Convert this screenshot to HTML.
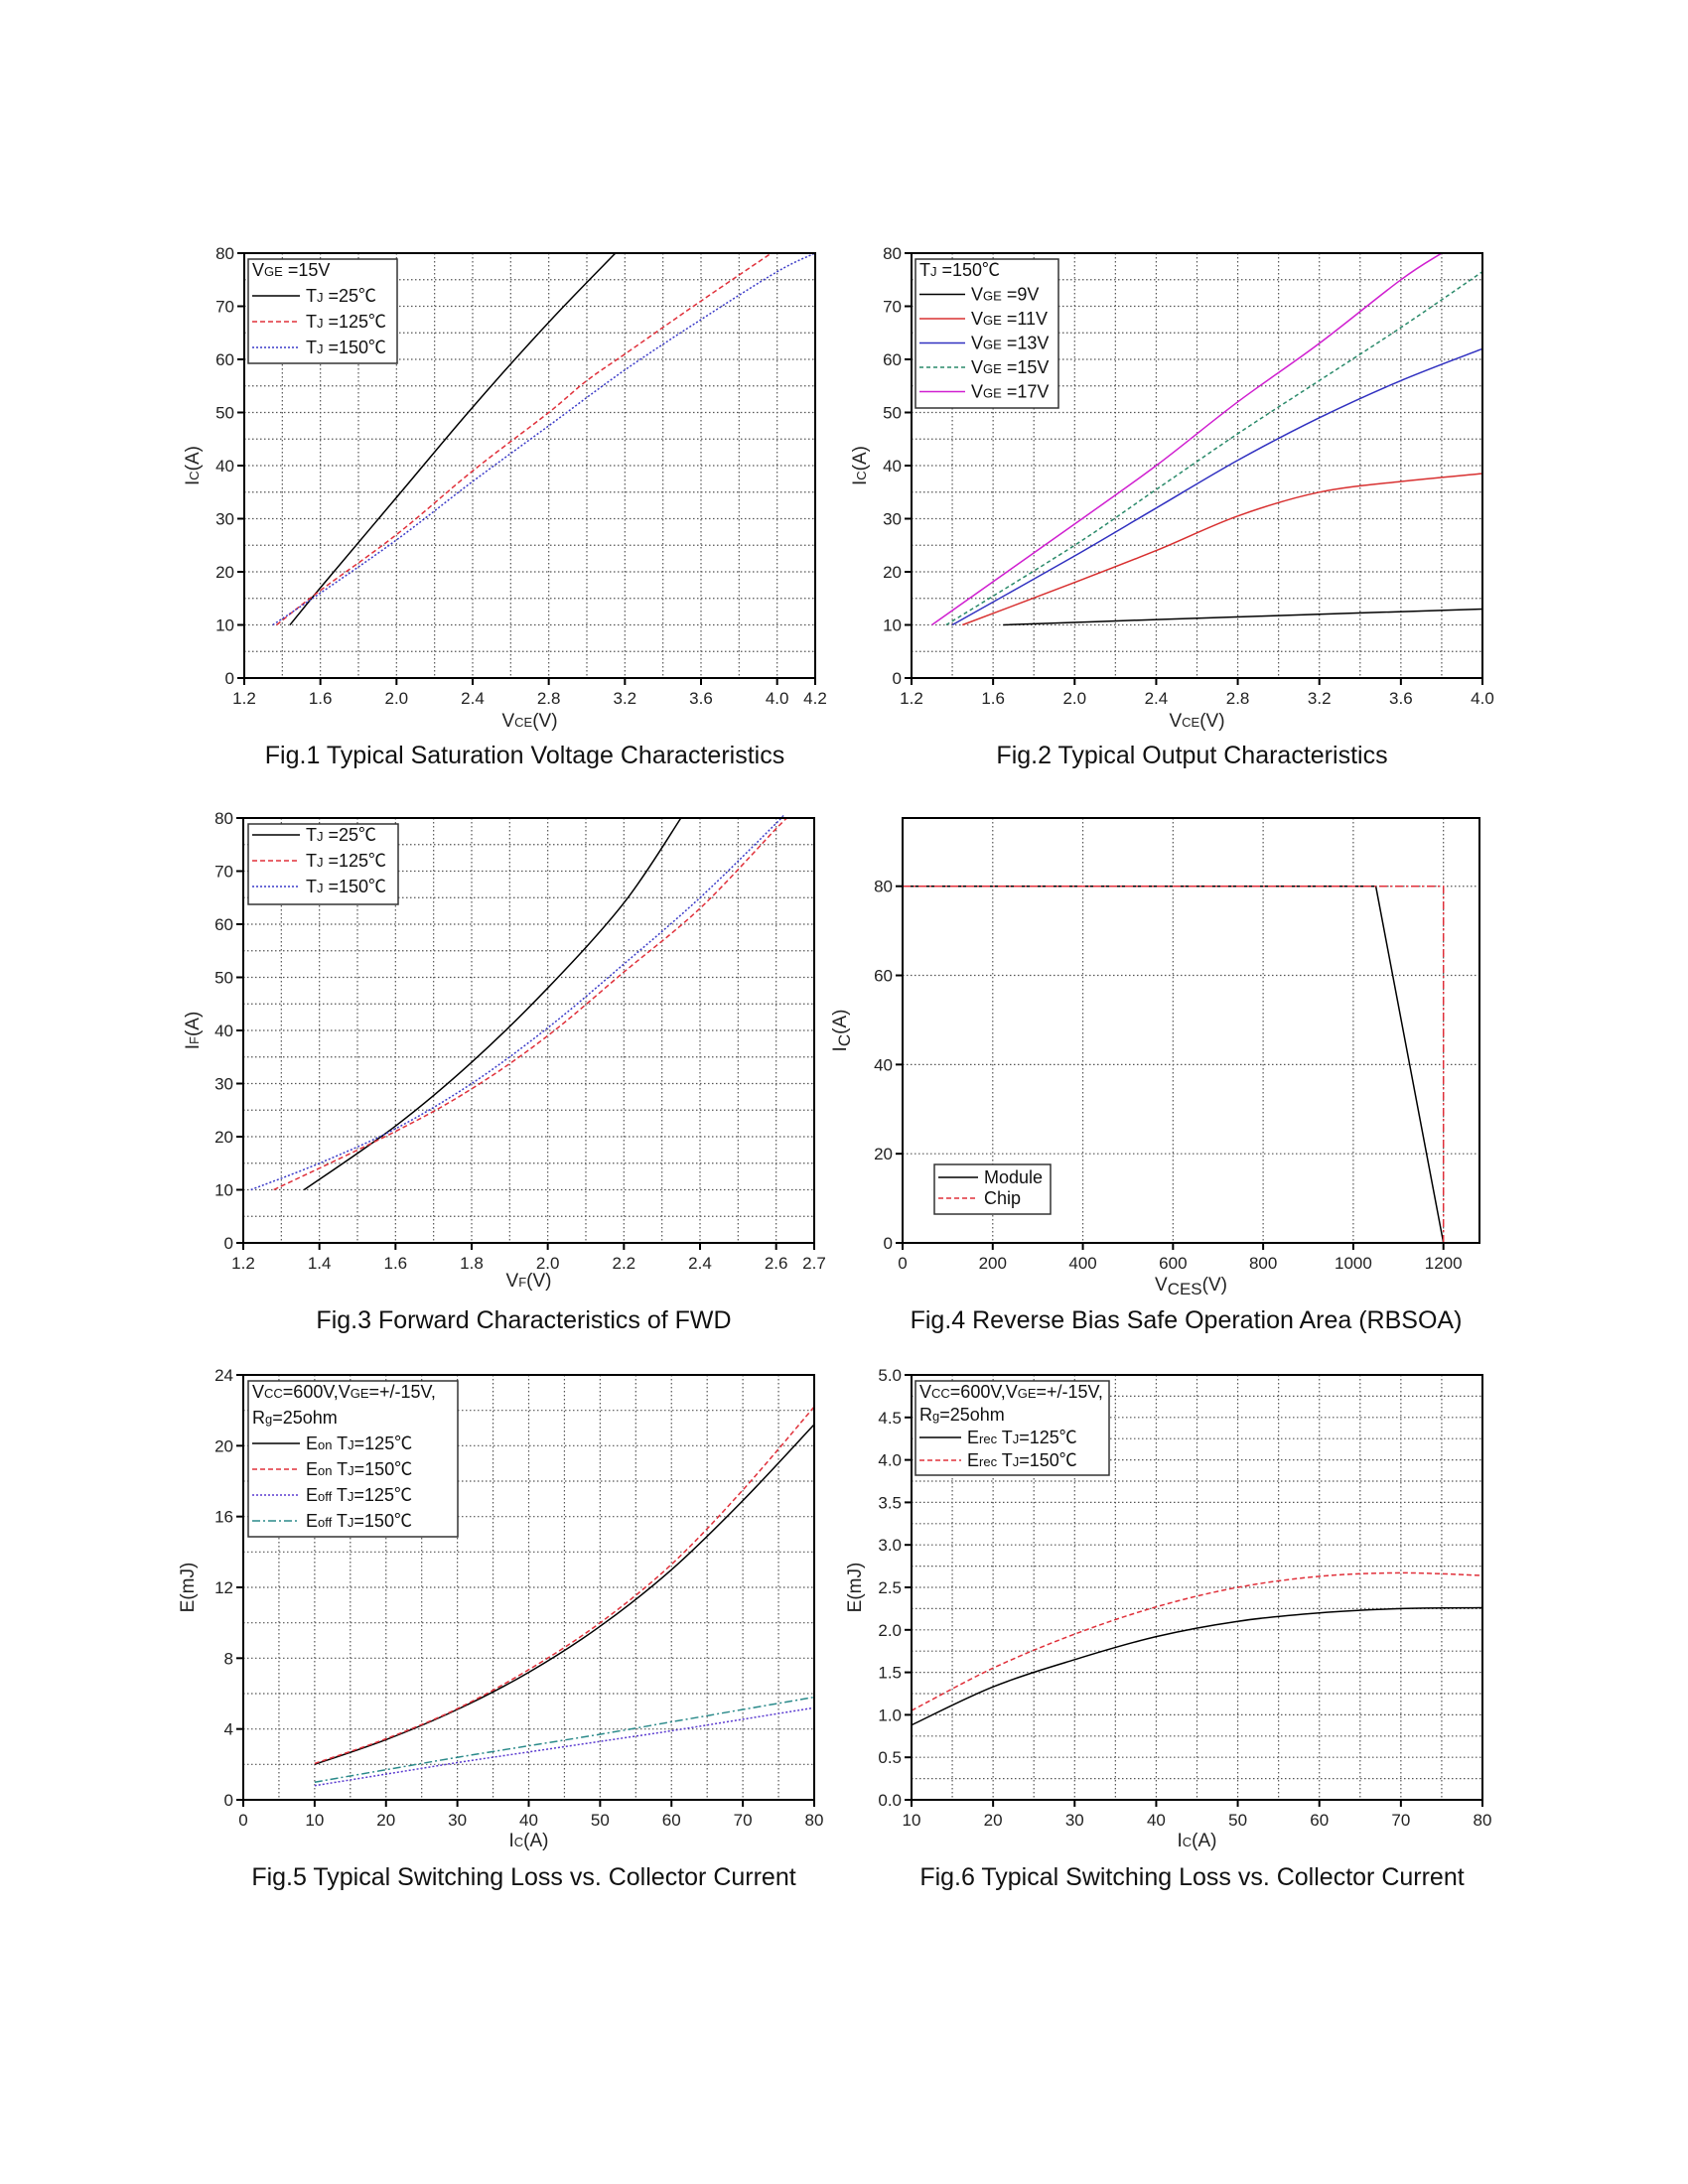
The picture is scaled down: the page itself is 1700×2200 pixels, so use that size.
<!DOCTYPE html>
<html><head><meta charset="utf-8"><style>
html,body{margin:0;padding:0;background:#fff;}
svg{display:block;font-family:"Liberation Sans","Noto Sans CJK SC",sans-serif;}
</style></head><body>
<svg id="page" width="1700" height="2200" viewBox="0 0 1700 2200" xmlns="http://www.w3.org/2000/svg"></svg>
<script>
// ---- Fig.1 data ----
const f1x25=[1.44,1.6,2.0,2.4,2.8,3.15];
const f1y25=[10,17,34,51,67,80];
const f1x125=[1.37,1.6,2.0,2.4,2.8,3.0,3.2,3.6,3.97];
const f1y125=[10,16.5,27,39,50,56,61,71,80];
const f1x150=[1.35,1.6,2.0,2.4,2.8,3.2,3.6,4.0,4.2];
const f1y150=[10,16,26,37,47.5,58,67.5,76.5,80];
const f1xt=["1.2","1.6","2.0","2.4","2.8","3.2","3.6","4.0","4.2"];
const f1yt=["0","10","20","30","40","50","60","70","80"];
// ---- Fig.2 data ----
const f2x9=[1.65,2.4,3.2,4.0];
const f2y9=[10,11,12,13];
const f2x11=[1.45,2.0,2.4,2.8,3.2,3.6,4.0];
const f2y11=[10,18,24,30.5,35,37,38.5];
const f2x13=[1.4,2.0,2.4,2.8,3.2,3.6,4.0];
const f2y13=[10,23,32,41,49,56,62];
const f2x15=[1.37,2.0,2.4,2.8,3.2,3.6,4.0];
const f2y15=[10,25,35.5,46,56,66,76.5];
const f2x17=[1.3,2.0,2.4,2.8,3.2,3.6,3.8];
const f2y17=[10,29,40,52,63,75,80];
const f2xt=["1.2","1.6","2.0","2.4","2.8","3.2","3.6","4.0"];
// ---- Fig.3 data ----
const f3x25=[1.36,1.6,1.8,2.0,2.2,2.35];
const f3y25=[10,22,34,48,64,80];
const f3x125=[1.28,1.6,1.8,2.0,2.2,2.4,2.6,2.63];
const f3y125=[10,21,29,39,51,63,78,80];
const f3x150=[1.22,1.4,1.6,1.8,2.0,2.2,2.4,2.6,2.61];
const f3y150=[10,15,21.5,30,40.5,52.5,65,79,80];
const f3xt=["1.2","1.4","1.6","1.8","2.0","2.2","2.4","2.6","2.7"];
// ---- Fig.4 data ----
const f4xMod=[0,1050,1200];
const f4yMod=[80,80,0];
const f4xChip=[0,1200,1200];
const f4yChip=[80,80,0];
const f4xt=["0","200","400","600","800","1000","1200"];
const f4yt=["0","20","40","60","80"];
// ---- Fig.5 data ----
const f5x=[10,20,30,40,50,60,70,80];
const f5on125=[2,3.4,5.1,7.2,9.8,13,16.9,21.2];
const f5on150=[2.05,3.45,5.15,7.35,10.0,13.3,17.5,22.2];
const f5off125=[0.8,1.45,2.1,2.7,3.3,3.9,4.55,5.2];
const f5off150=[1.0,1.7,2.4,3.05,3.7,4.4,5.1,5.8];
const f5xt=["0","10","20","30","40","50","60","70","80"];
const f5yt=["0","4","8","12","16","20","24"];
// ---- Fig.6 data ----
const f6x=[10,20,30,40,50,60,70,80];
const f6rec125=[0.88,1.33,1.65,1.92,2.1,2.2,2.25,2.26];
const f6rec150=[1.05,1.55,1.95,2.27,2.5,2.63,2.67,2.64];
const f6xt=["10","20","30","40","50","60","70","80"];
const f6yt=["0.0","0.5","1.0","1.5","2.0","2.5","3.0","3.5","4.0","4.5","5.0"];

const NS="http://www.w3.org/2000/svg";
const page=document.getElementById('page');
function mk(tag,attrs,parent){const e=document.createElementNS(NS,tag);for(const k in attrs)e.setAttribute(k,attrs[k]);(parent||page).appendChild(e);return e;}

function pathD(P,smooth){
  let d='M'+P[0][0].toFixed(1)+','+P[0][1].toFixed(1);
  if(!smooth||P.length<3){for(let i=1;i<P.length;i++)d+='L'+P[i][0].toFixed(1)+','+P[i][1].toFixed(1);return d;}
  for(let i=0;i<P.length-1;i++){
    const p0=P[i-1]||P[i],p1=P[i],p2=P[i+1],p3=P[i+2]||P[i+1];
    const c1=[p1[0]+(p2[0]-p0[0])/6,p1[1]+(p2[1]-p0[1])/6];
    const c2=[p2[0]-(p3[0]-p1[0])/6,p2[1]-(p3[1]-p1[1])/6];
    d+='C'+c1[0].toFixed(1)+','+c1[1].toFixed(1)+' '+c2[0].toFixed(1)+','+c2[1].toFixed(1)+' '+p2[0].toFixed(1)+','+p2[1].toFixed(1);
  }
  return d;
}

function chart(name,c){
  const g=mk('g',{});
  
  
  const sx=v=>c.l+(v-c.xmin)/(c.xmax-c.xmin)*(c.r-c.l);
  const sy=v=>c.b-(v-c.ymin)/(c.ymax-c.ymin)*(c.b-c.t);
  const gg=mk('g',{},g);
  
  
  for(let v=c.xmin+c.xg;v<c.xmax-1e-9;v+=c.xg){
    const x=sx(v);
    const ln=mk('line',{x1:x,x2:x,y1:c.t,y2:c.b,stroke:'#555','stroke-width':1.2,'stroke-dasharray':'1.5,2.5'},gg);
    
    
  }
  for(let v=c.ymin+c.yg;v<c.ymax-1e-9;v+=c.yg){
    const y=sy(v);
    const ln=mk('line',{x1:c.l,x2:c.r,y1:y,y2:y,stroke:'#555','stroke-width':1.2,'stroke-dasharray':'1.5,2.5'},gg);
    
    
  }
  c.xticks.forEach(t=>{
    const x=sx(parseFloat(t));
    mk('line',{x1:x,x2:x,y1:c.b,y2:c.b+7,stroke:'#000','stroke-width':2},g);
    const tx=mk('text',{x:x,y:c.b+26,'font-size':17,'text-anchor':'middle',fill:'#222'},g);
    tx.textContent=t;
    
    
  });
  c.yticks.forEach(t=>{
    const y=sy(parseFloat(t));
    mk('line',{x1:c.l-7,x2:c.l,y1:y,y2:y,stroke:'#000','stroke-width':2},g);
    const tx=mk('text',{x:c.l-10,y:y+6,'font-size':17,'text-anchor':'end',fill:'#222'},g);
    tx.textContent=t;
    
    
  });
  c.series.forEach(s=>{
    const P=s.x.map((xv,i)=>[sx(xv),sy(s.y[i])]);
    const p=mk('path',{d:pathD(P,c.smooth),fill:'none',stroke:s.color,'stroke-width':1.5,'stroke-dasharray':s.dash||'none','stroke-linejoin':'round'},g);
    
    
  });
  const fr=mk('rect',{x:c.l,y:c.t,width:c.r-c.l,height:c.b-c.t,fill:'none',stroke:'#000','stroke-width':2},g);
  
  
  const xt=mk('text',{x:(c.l+c.r)/2,y:c.xty,'font-size':19,'text-anchor':'middle',fill:'#222'},g);
  xt.innerHTML=c.xtitle;
  
  
  const yt=mk('text',{x:0,y:0,'font-size':19,'text-anchor':'middle',fill:'#222',transform:`translate(${c.ytx},${(c.t+c.b)/2}) rotate(-90)`},g);
  yt.innerHTML=c.ytitle;
  
  
  const cap=mk('text',{x:(c.l+c.r)/2-5,y:c.capy,'font-size':25,'text-anchor':'middle',fill:'#111'},g);
  cap.textContent=c.caption;
  
  
  const L=c.legend;
  const lg=mk('g',{},g);
  
  
  mk('rect',{x:L.x,y:L.y,width:L.w,height:L.h,fill:'#fff',stroke:'#333','stroke-width':1.5},lg);
  let yy=L.y+L.pad;
  (L.head||[]).forEach(h=>{
    const t=mk('text',{x:L.x+4,y:yy+13,'font-size':18,fill:'#111'},lg);t.innerHTML=h;
    
    
    yy+=L.dy;
  });
  L.items.forEach(it=>{
    mk('line',{x1:L.x+4,x2:L.x+L.lw,y1:yy+7,y2:yy+7,stroke:it.color,'stroke-width':1.5,'stroke-dasharray':it.dash||'none'},lg);
    const t=mk('text',{x:L.x+L.lw+6,y:yy+13,'font-size':18,fill:'#111'},lg);t.innerHTML=it.label;
    
    
    yy+=L.dy;
  });
}
const sub=s=>`<tspan font-size="13">${s}</tspan>`;
const RED='#e0303a',BLUE='#3a3ac8',DASH='5,3',DOT='2,2',DASHDOT='8,3,2,3';

chart('fig1-saturation-voltage',{smooth:true,l:246,r:821,t:255,b:683,xmin:1.2,xmax:4.2,ymin:0,ymax:80,xg:0.2,yg:5,
  xticks:f1xt,yticks:f1yt,xtitle:'V'+sub('CE')+'(V)',ytitle:'I'+sub('C')+'(A)',xty:732,ytx:200,capy:769,
  caption:'Fig.1 Typical Saturation Voltage Characteristics',
  series:[{name:'line-tj-25',x:f1x25,y:f1y25,color:'#000'},{name:'line-tj-125',x:f1x125,y:f1y125,color:RED,dash:DASH},{name:'line-tj-150',x:f1x150,y:f1y150,color:BLUE,dash:DOT}],
  legend:{x:250,y:261,w:150,h:105,pad:4,dy:26,lw:52,head:['V'+sub('GE')+' =15V'],
    items:[{label:'T'+sub('J')+' =25℃',color:'#000'},{label:'T'+sub('J')+' =125℃',color:RED,dash:DASH},{label:'T'+sub('J')+' =150℃',color:BLUE,dash:DOT}]}});

chart('fig2-output-characteristics',{smooth:true,l:918,r:1493,t:255,b:683,xmin:1.2,xmax:4.0,ymin:0,ymax:80,xg:0.2,yg:5,
  xticks:f2xt,yticks:f1yt,xtitle:'V'+sub('CE')+'(V)',ytitle:'I'+sub('C')+'(A)',xty:732,ytx:872,capy:769,
  caption:'Fig.2 Typical Output Characteristics',
  series:[{name:'line-vge-9',x:f2x9,y:f2y9,color:'#000'},{name:'line-vge-11',x:f2x11,y:f2y11,color:'#d83030'},{name:'line-vge-13',x:f2x13,y:f2y13,color:'#3030c0'},{name:'line-vge-15',x:f2x15,y:f2y15,color:'#2a8a6a',dash:'4,3'},{name:'line-vge-17',x:f2x17,y:f2y17,color:'#d020d0'}],
  legend:{x:922,y:261,w:144,h:150,pad:4,dy:24.5,lw:50,head:['T'+sub('J')+' =150℃'],
    items:[{label:'V'+sub('GE')+' =9V',color:'#000'},{label:'V'+sub('GE')+' =11V',color:'#d83030'},{label:'V'+sub('GE')+' =13V',color:'#3030c0'},{label:'V'+sub('GE')+' =15V',color:'#2a8a6a',dash:'4,3'},{label:'V'+sub('GE')+' =17V',color:'#d020d0'}]}});

chart('fig3-forward-fwd',{smooth:true,l:245,r:820,t:824,b:1252,xmin:1.2,xmax:2.7,ymin:0,ymax:80,xg:0.1,yg:5,
  xticks:f3xt,yticks:f1yt,xtitle:'V'+sub('F')+'(V)',ytitle:'I'+sub('F')+'(A)',xty:1296,ytx:200,capy:1338,
  caption:'Fig.3 Forward Characteristics of FWD',
  series:[{name:'line-tj-25',x:f3x25,y:f3y25,color:'#000'},{name:'line-tj-125',x:f3x125,y:f3y125,color:RED,dash:DASH},{name:'line-tj-150',x:f3x150,y:f3y150,color:BLUE,dash:DOT}],
  legend:{x:250,y:830,w:151,h:81,pad:4,dy:26,lw:52,head:[],
    items:[{label:'T'+sub('J')+' =25℃',color:'#000'},{label:'T'+sub('J')+' =125℃',color:RED,dash:DASH},{label:'T'+sub('J')+' =150℃',color:BLUE,dash:DOT}]}});

chart('fig4-rbsoa',{smooth:false,l:909,r:1490,t:824,b:1252,xmin:0,xmax:1280,ymin:0,ymax:95.3,xg:200,yg:20,
  xticks:f4xt,yticks:f4yt,xtitle:'V<tspan font-size="17" dy="4">CES</tspan><tspan dy="-4">(V)</tspan>',ytitle:'I<tspan font-size="17" dy="4">C</tspan><tspan dy="-4">(A)</tspan>',xty:1300,ytx:852,capy:1338,
  caption:'Fig.4 Reverse Bias Safe Operation Area (RBSOA)',
  series:[{name:'line-module',x:f4xMod,y:f4yMod,color:'#000'},{name:'line-chip',x:f4xChip,y:f4yChip,color:RED,dash:DASHDOT}],
  legend:{x:941,y:1173,w:117,h:50,pad:6,dy:21,lw:44,head:[],
    items:[{label:'Module',color:'#000'},{label:'Chip',color:RED,dash:DASH}]}});

chart('fig5-switching-loss',{smooth:true,l:245,r:820,t:1385,b:1813,xmin:0,xmax:80,ymin:0,ymax:24,xg:5,yg:2,
  xticks:f5xt,yticks:f5yt,xtitle:'I'+sub('C')+'(A)',ytitle:'E(mJ)',xty:1860,ytx:195,capy:1899,
  caption:'Fig.5 Typical Switching Loss vs. Collector Current',
  series:[{name:'line-eon-125',x:f5x,y:f5on125,color:'#000'},{name:'line-eon-150',x:f5x,y:f5on150,color:RED,dash:DASH},{name:'line-eoff-125',x:f5x,y:f5off125,color:'#5a3ad0',dash:DOT},{name:'line-eoff-150',x:f5x,y:f5off150,color:'#2a8a8a',dash:DASHDOT}],
  legend:{x:250,y:1391,w:211,h:157,pad:4,dy:26,lw:52,head:['V'+sub('CC')+'=600V,V'+sub('GE')+'=+/-15V,','R'+sub('g')+'=25ohm'],
    items:[{label:'E'+sub('on')+' T'+sub('J')+'=125℃',color:'#000'},{label:'E'+sub('on')+' T'+sub('J')+'=150℃',color:RED,dash:DASH},{label:'E'+sub('off')+' T'+sub('J')+'=125℃',color:'#5a3ad0',dash:DOT},{label:'E'+sub('off')+'  T'+sub('J')+'=150℃',color:'#2a8a8a',dash:DASHDOT}]}});

chart('fig6-erec-loss',{smooth:true,l:918,r:1493,t:1385,b:1813,xmin:10,xmax:80,ymin:0,ymax:5,xg:5,yg:0.25,
  xticks:f6xt,yticks:f6yt,xtitle:'I'+sub('C')+'(A)',ytitle:'E(mJ)',xty:1860,ytx:867,capy:1899,
  caption:'Fig.6 Typical Switching Loss vs. Collector Current',
  series:[{name:'line-erec-125',x:f6x,y:f6rec125,color:'#000'},{name:'line-erec-150',x:f6x,y:f6rec150,color:RED,dash:DASH}],
  legend:{x:922,y:1391,w:195,h:95,pad:4,dy:23,lw:46,head:['V'+sub('CC')+'=600V,V'+sub('GE')+'=+/-15V,','R'+sub('g')+'=25ohm'],
    items:[{label:'E'+sub('rec')+' T'+sub('J')+'=125℃',color:'#000'},{label:'E'+sub('rec')+' T'+sub('J')+'=150℃',color:RED,dash:DASH}]}});
</script>
</body></html>
